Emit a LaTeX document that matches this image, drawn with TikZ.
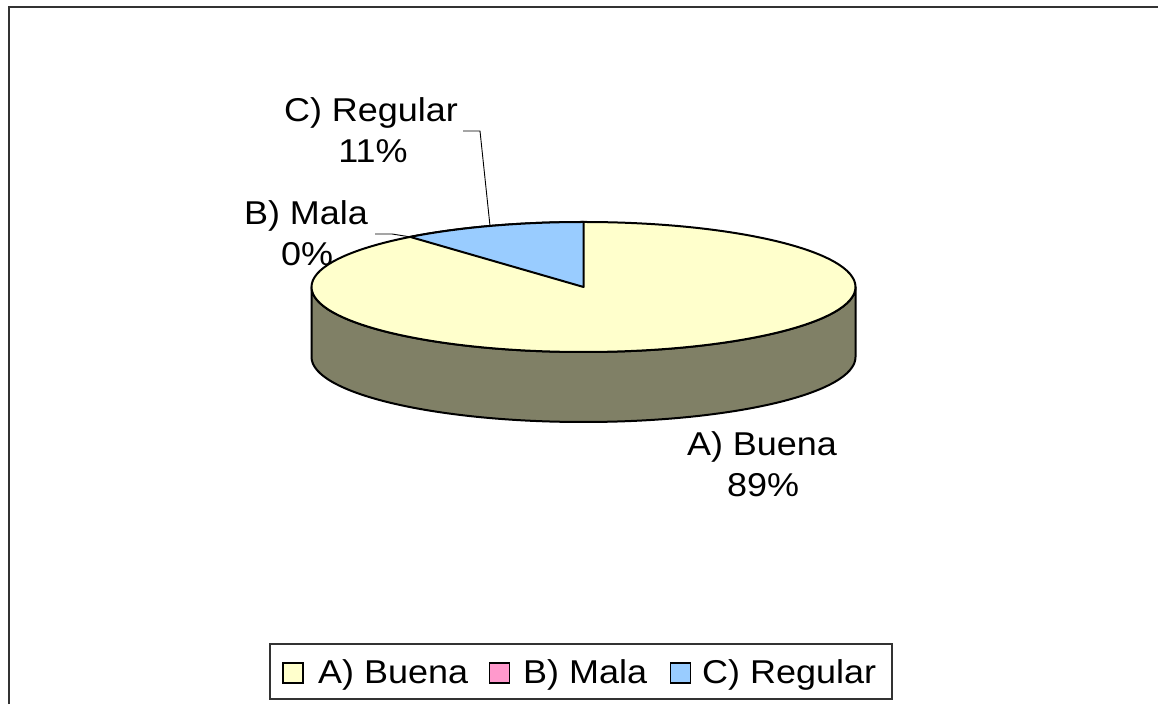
\documentclass[tikz,border=0pt]{standalone}
\usepackage{fontspec}
\setmainfont{Liberation Sans}[FakeStretch=1.09]
\definecolor{buena}{RGB}{255,255,204}
\definecolor{mala}{RGB}{255,153,204}
\definecolor{regular}{RGB}{153,204,255}
\definecolor{side}{RGB}{128,128,102}
\definecolor{frame}{RGB}{51,51,51}
\tikzset{
  lbl/.style={inner sep=0pt, anchor=base, font=\fontsize{33}{41}\selectfont},
  legtxt/.style={inner sep=0pt, anchor=base west, font=\fontsize{33}{41}\selectfont},
  pieline/.style={draw=black, line width=2pt, line join=round},
  leader/.style={draw=black, line width=0.9pt},
  legsq/.style={draw=black, line width=1.3pt},
}
\begin{document}
\begin{tikzpicture}[x=1pt,y=1pt]
\useasboundingbox (0,0) rectangle (1158,704);
% outer frame (only top and left visible)
\draw[frame, line width=2pt] (9,0) -- (9,697) -- (1158,697);
% pie side
\coordinate (C) at (583.5,417);
\path[pieline, fill=side] (311.5,417) -- (311.5,347)
  arc[start angle=180, end angle=360, x radius=272, y radius=65]
  -- (855.5,417)
  arc[start angle=0, end angle=-180, x radius=272, y radius=65] -- cycle;
% top face
\path[pieline, fill=buena] (C) ellipse[x radius=272, y radius=65];
% C) Regular slice
\path[pieline, fill=regular] (583.5,482)
  arc[start angle=90, end angle=129.6, x radius=272, y radius=65] -- (C) -- cycle;
\coordinate (Bpt) at (410.2,467.1);
\coordinate (Cpt) at (490,478);
% labels
\node[lbl] (labC) at (371,582) {C) Regular};
\node[lbl] (pctC) at (373,541) {11\%};
\node[lbl] (labB) at (306,479) {B) Mala};
\node[lbl] (pctB) at (307,438) {0\%};
\node[lbl] (labA) at (762,248) {A) Buena};
\node[lbl] (pctA) at (763,207) {89\%};
% leaders
\coordinate (Cl) at (463,573);
\coordinate (Bl) at (375,470);
\draw[leader] (Cl) -- ++(17,0) -- (Cpt);
\draw[leader] (Bl) -- ++(17,0) -- (Bpt);
% legend
\draw[frame, line width=1.5pt] (270,5) rectangle (892,60);
\node[legsq, fill=buena, minimum width=20pt, minimum height=20pt, inner sep=0pt] (sqA) at (293,31) {};
\node[legtxt] (lgA) at (318,21) {A) Buena};
\node[legsq, fill=mala, minimum width=20pt, minimum height=20pt, inner sep=0pt] (sqB) at (499.5,31) {};
\node[legtxt] (lgB) at (523,21) {B) Mala};
\node[legsq, fill=regular, minimum width=20pt, minimum height=20pt, inner sep=0pt] (sqC) at (680.5,31) {};
\node[legtxt] (lgC) at (702,21) {C) Regular};
\end{tikzpicture}
\end{document}
